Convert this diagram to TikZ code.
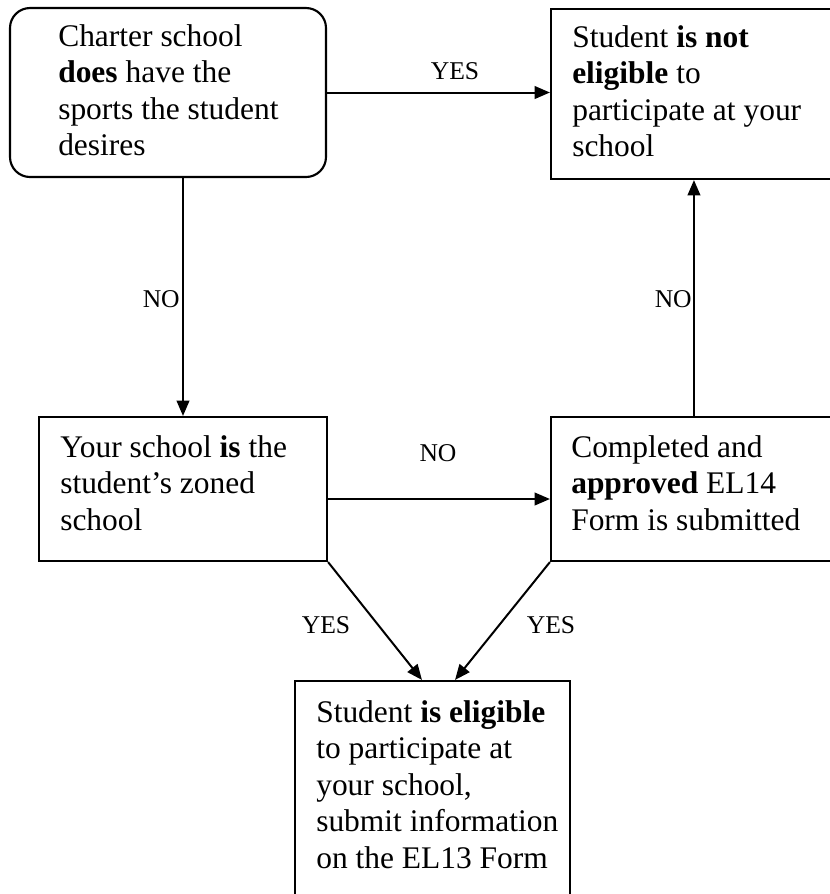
\documentclass[tikz,border=0pt]{standalone}
\usepackage{fontspec}
\setmainfont{Liberation Serif}
\usetikzlibrary{arrows.meta,calc}
\begin{document}
\begin{tikzpicture}[x=0.75pt,y=-0.75pt,
  box/.style={draw, line width=1.6pt, inner sep=0pt},
  txt/.style={anchor=base west, inner sep=0pt, font=\fontsize{23.6pt}{27.4pt}\selectfont},
  lbl/.style={inner sep=0pt, font=\fontsize{19.2pt}{22pt}\selectfont},
  conn/.style={line width=1.5pt, -{Triangle[length=11.5pt,width=9.5pt]}}]
\useasboundingbox (0,0) rectangle (830,894);
\clip (0,0) rectangle (830,894);
% boxes
\node[box, rounded corners=15pt, minimum width=237pt, minimum height=126.75pt] (boxA) at (168,92.5) {};
\node[box, minimum width=224.25pt, minimum height=127.5pt] (boxB) at (700.5,94) {};
\node[box, minimum width=216pt, minimum height=108pt] (boxC) at (183,489) {};
\node[box, minimum width=224.25pt, minimum height=108pt] (boxD) at (700.5,489) {};
\node[box, minimum width=206.25pt, minimum height=168pt] (boxE) at (432.5,793) {};
% texts
\node[txt] (tA) at (58,46) {\begin{tabular}[t]{@{}l@{}}Charter school\\\textbf{does} have the\\sports the student\\desires\end{tabular}};
\node[txt] (tB) at (572,47) {\begin{tabular}[t]{@{}l@{}}Student \textbf{is not}\\\textbf{eligible} to\\participate at your\\school\end{tabular}};
\node[txt] (tC) at (60,457) {\begin{tabular}[t]{@{}l@{}}Your school \textbf{is} the\\student’s zoned\\school\end{tabular}};
\node[txt] (tD) at (571,457) {\begin{tabular}[t]{@{}l@{}}Completed and\\\textbf{approved} EL14\\Form is submitted\end{tabular}};
\node[txt] (tE) at (316,722) {\begin{tabular}[t]{@{}l@{}}Student \textbf{is eligible}\\to participate at\\your school,\\submit information\\on the EL13 Form\end{tabular}};
% connectors
\draw[conn] (boxA.east) -- (boxA.east -| boxB.west);
\draw[conn] (boxA.south -| boxC.north) -- (boxC.north);
\coordinate (cd) at ([yshift=-7.5pt]boxC.east);
\draw[conn] (cd) -- (cd -| boxD.west);
\coordinate (db) at ([xshift=-4.9pt]boxD.north);
\draw[conn] (db) -- (db |- boxB.south);
\coordinate (ce) at ([xshift=-7.9pt]boxE.north);
\draw[conn] (boxC.south east) -- (ce);
\coordinate (de) at ([xshift=16.9pt]boxE.north);
\draw[conn] (boxD.south west) -- (de);
% labels
\node[lbl, anchor=base] (yes1) at (455,79) {YES};
\node[lbl, anchor=base east] (no1) at (180,307) {NO};
\node[lbl, anchor=base east] (no2) at (692,307) {NO};
\node[lbl, anchor=base] (no3) at (438,461) {NO};
\node[lbl, anchor=base] (yes2) at (326,633) {YES};
\node[lbl, anchor=base] (yes3) at (551,633) {YES};
\end{tikzpicture}
\end{document}
